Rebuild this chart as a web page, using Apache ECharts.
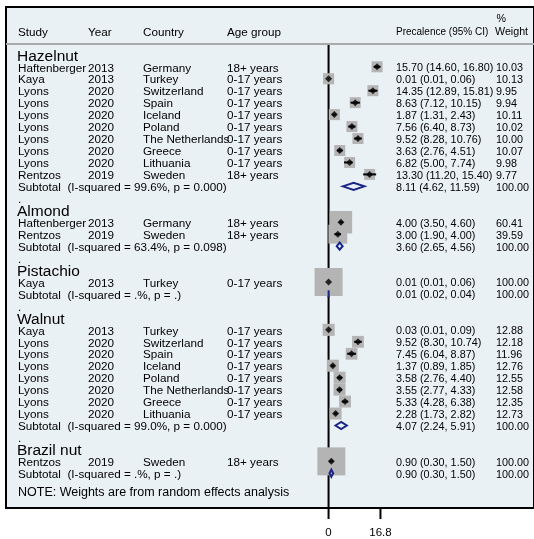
<!DOCTYPE html>
<html>
<head>
<meta charset="utf-8">
<script src="https://cdn.jsdelivr.net/npm/echarts@6/dist/echarts.min.js"></script>
<style>
  html, body { margin: 0; padding: 0; background: #fff; }
  #chart { width: 534px; height: 539px; }
</style>
</head>
<body>
<div id="chart"></div>
<script>
// ---- Data -------------------------------------------------------------
const groupNames = ['Hazelnut', 'Almond', 'Pistachio', 'Walnut', 'Brazil nut'];

const studyGroup   = [0,0,0,0,0,0,0,0,0,0, 1,1, 2, 3,3,3,3,3,3,3,3, 4];
const studyAuthor  = ['Haftenberger','Kaya','Lyons','Lyons','Lyons','Lyons','Lyons','Lyons','Lyons','Rentzos',
                      'Haftenberger','Rentzos',
                      'Kaya',
                      'Kaya','Lyons','Lyons','Lyons','Lyons','Lyons','Lyons','Lyons',
                      'Rentzos'];
const studyYear    = [2013,2013,2020,2020,2020,2020,2020,2020,2020,2019,
                      2013,2019,
                      2013,
                      2013,2020,2020,2020,2020,2020,2020,2020,
                      2019];
const studyCountry = ['Germany','Turkey','Switzerland','Spain','Iceland','Poland','The Netherlands','Greece','Lithuania','Sweden',
                      'Germany','Sweden',
                      'Turkey',
                      'Turkey','Switzerland','Spain','Iceland','Poland','The Netherlands','Greece','Lithuania',
                      'Sweden'];
const studyAge     = ['18+ years','0-17 years','0-17 years','0-17 years','0-17 years','0-17 years','0-17 years','0-17 years','0-17 years','18+ years',
                      '18+ years','18+ years',
                      '0-17 years',
                      '0-17 years','0-17 years','0-17 years','0-17 years','0-17 years','0-17 years','0-17 years','0-17 years',
                      '18+ years'];
const prevalence   = [15.70, 0.01, 14.35, 8.63, 1.87, 7.56, 9.52, 3.63, 6.82, 13.30,
                      4.00, 3.00,
                      0.01,
                      0.03, 9.52, 7.45, 1.37, 3.58, 3.55, 5.33, 2.28,
                      0.90];
const ciLow        = [14.60, 0.01, 12.89, 7.12, 1.31, 6.40, 8.28, 2.76, 5.00, 11.20,
                      3.50, 1.90,
                      0.01,
                      0.01, 8.30, 6.04, 0.89, 2.76, 2.77, 4.28, 1.73,
                      0.30];
const ciHigh       = [16.80, 0.06, 15.81, 10.15, 2.43, 8.73, 10.76, 4.51, 7.74, 15.40,
                      4.60, 4.00,
                      0.06,
                      0.09, 10.74, 8.87, 1.85, 4.40, 4.33, 6.38, 2.82,
                      1.50];
const weightPct    = [10.03, 10.13, 9.95, 9.94, 10.11, 10.02, 10.00, 10.07, 9.98, 9.77,
                      60.41, 39.59,
                      100.00,
                      12.88, 12.18, 11.96, 12.76, 12.55, 12.58, 12.35, 12.73,
                      100.00];

// Pooled (random effects) estimates per subgroup
const subEst    = [8.11, 3.60, 0.01, 4.07, 0.90];
const subLow    = [4.62, 2.65, 0.02, 2.24, 0.30];
const subHigh   = [11.59, 4.56, 0.04, 5.91, 1.50];
const subISq    = ['99.6%', '63.4%', '.%', '99.0%', '.%'];
const subP      = ['0.000', '0.098', '.', '0.000', '.'];

const axisTicks = [0, 16.8];

// ---- Layout -------------------------------------------------------------
const FONT = '"Liberation Sans", Arial, sans-serif';
const X0 = 331, X168 = 383.3;                 // pixel of 0 and 16.8 on the effect axis
const PXU = (X168 - X0) / 16.8;
const GRID_LEFT = 6, GRID_RIGHT = 538;
const XMIN = (GRID_LEFT - X0) / PXU;
const XMAX = (GRID_RIGHT - X0) / PXU;
const COL = { study: 18, year: 88, country: 143, age: 227, ci: 396, wt: 496 };
const SEP_ROW = -1.9, BOTTOM_ROW = 36.9;
const TEXT_SHIFT = 1.5;                        // optical centring of text on its row

const fmt = v => v.toFixed(2);

// Assign display rows
const studyRow = [];
const subRow = [];
const texts = [];
const T = (row, x, text, size, dy) => texts.push({ row, x, text, size, dy: dy || 0 });

T(-3, COL.study, 'Study', 11.7);
T(-3, COL.year, 'Year', 11.7);
T(-3, COL.country, 'Country', 11.7);
T(-3, COL.age, 'Age group', 11.7);
T(-3, COL.ci, 'Precalence (95% CI)', 10);
T(-3, COL.wt - 1, 'Weight', 10.7);
T(-3, COL.wt + 0.5, '%', 10.7, -13.5);

let row = -1;
groupNames.forEach((g, gi) => {
  if (gi > 0) { T(row, COL.study, '.', 11.7); row++; }
  T(row, COL.study - 1, g, 15.5);
  row++;
  studyGroup.forEach((sg, i) => {
    if (sg !== gi) return;
    studyRow[i] = row;
    T(row, COL.study, studyAuthor[i], 11.7);
    T(row, COL.year, String(studyYear[i]), 11.7);
    T(row, COL.country, studyCountry[i], 11.7);
    T(row, COL.age, studyAge[i], 11.7);
    T(row, COL.ci, fmt(prevalence[i]) + ' (' + fmt(ciLow[i]) + ', ' + fmt(ciHigh[i]) + ')', 10.8);
    T(row, COL.wt, fmt(weightPct[i]), 10.8);
    row++;
  });
  subRow[gi] = row;
  T(row, COL.study, 'Subtotal  (I-squared = ' + subISq[gi] + ', p = ' + subP[gi] + ')', 11.7);
  T(row, COL.ci, fmt(subEst[gi]) + ' (' + fmt(subLow[gi]) + ', ' + fmt(subHigh[gi]) + ')', 10.8);
  T(row, COL.wt, '100.00', 10.8);
  row++;
});
T(row + 0.5, COL.study, 'NOTE: Weights are from random effects analysis', 12.5);

// ---- Chart --------------------------------------------------------------
const chart = echarts.init(document.getElementById('chart'), null, { renderer: 'canvas' });

const studyData = prevalence.map((p, i) => [p, studyRow[i], ciLow[i], ciHigh[i], weightPct[i]]);
const subData = subEst.map((e, i) => [e, subRow[i], subLow[i], subHigh[i]]);

chart.setOption({
  animation: false,
  backgroundColor: '#ffffff',
  grid: {
    left: GRID_LEFT, top: 7, width: GRID_RIGHT - GRID_LEFT, height: 505,
    show: true, backgroundColor: '#eaf1f4', borderColor: '#000', borderWidth: 2
  },
  xAxis: {
    type: 'value', min: XMIN, max: XMAX,
    axisLine: { show: false },
    splitLine: { show: false },
    axisTick: { show: false },
    axisLabel: {
      show: true, customValues: axisTicks, margin: 19, color: '#000',
      fontSize: 11.5, fontFamily: FONT,
      formatter: v => String(v)
    }
  },
  yAxis: { type: 'value', inverse: true, min: -5, max: BOTTOM_ROW, show: false },
  series: [
    {
      // header rule and the line of no effect
      type: 'custom', z: 1, silent: true,
      data: [[0, 0]],
      renderItem: (params, api) => {
        const a = api.coord([0, SEP_ROW]);
        const b = api.coord([0, BOTTOM_ROW]);
        const l = api.coord([XMIN, SEP_ROW]);
        const r = api.coord([XMAX, SEP_ROW]);
        return {
          type: 'group',
          children: [
            { type: 'line', shape: { x1: l[0], y1: l[1], x2: r[0], y2: r[1] },
              style: { stroke: '#a9a9a9', lineWidth: 2 } },
            { type: 'line', shape: { x1: a[0], y1: a[1] + 1, x2: b[0], y2: b[1] },
              style: { stroke: '#000', lineWidth: 2 } }
          ]
        };
      }
    },
    {
      // axis ticks below the plot frame
      type: 'custom', z: 1, silent: true, clip: false,
      data: axisTicks.map(v => [v, BOTTOM_ROW]),
      renderItem: (params, api) => {
        const c = api.coord([api.value(0), api.value(1)]);
        return { type: 'line', shape: { x1: c[0], y1: c[1], x2: c[0], y2: c[1] + 11 },
                 style: { stroke: '#000', lineWidth: 2 } };
      }
    },
    {
      // table text
      type: 'custom', z: 2, silent: true,
      data: texts.map(t => [0, t.row]),
      renderItem: (params, api) => {
        const t = texts[params.dataIndex];
        const y = api.coord([0, t.row])[1] + t.dy + TEXT_SHIFT;
        return {
          type: 'text', x: t.x, y: y,
          style: { text: t.text, fontSize: t.size, fontFamily: FONT, fill: '#000',
                   align: 'left', verticalAlign: 'middle' }
        };
      }
    },
    {
      // weight boxes
      type: 'custom', z: 3, silent: true,
      data: studyData,
      renderItem: (params, api) => {
        const c = api.coord([api.value(0), api.value(1)]);
        const s = 3.14 + 2.485 * Math.sqrt(api.value(4));
        return { type: 'rect', shape: { x: c[0] - s / 2, y: c[1] - s / 2, width: s, height: s },
                 style: { fill: '#b4b4b4' } };
      }
    },
    {
      // confidence intervals
      type: 'custom', z: 4, silent: true,
      data: studyData,
      renderItem: (params, api) => {
        const a = api.coord([api.value(2), api.value(1)]);
        const b = api.coord([api.value(3), api.value(1)]);
        return { type: 'line', shape: { x1: a[0], y1: a[1], x2: b[0], y2: b[1] },
                 style: { stroke: '#000', lineWidth: 2 } };
      }
    },
    {
      // point estimates
      type: 'scatter', z: 5, silent: true,
      symbol: 'diamond', symbolSize: 7,
      itemStyle: { color: '#000' },
      data: studyData.map(d => [d[0], d[1]])
    },
    {
      // pooled subgroup diamonds
      type: 'custom', z: 6, silent: true,
      data: subData,
      renderItem: (params, api) => {
        const c = api.coord([api.value(0), api.value(1)]);
        const lo = api.coord([api.value(2), api.value(1)]);
        const hi = api.coord([api.value(3), api.value(1)]);
        const h = 3.6;
        return {
          type: 'polygon',
          shape: { points: [[lo[0], c[1]], [c[0], c[1] - h], [hi[0], c[1]], [c[0], c[1] + h]] },
          style: { fill: 'none', stroke: '#1b2585', lineWidth: 2 }
        };
      }
    }
  ]
});
</script>
</body>
</html>
